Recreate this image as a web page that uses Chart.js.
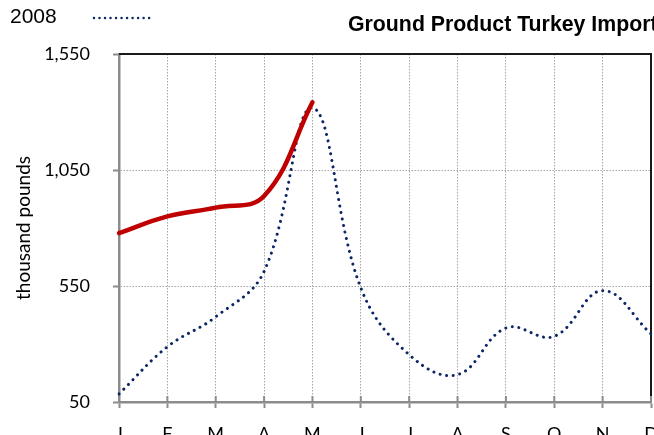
<!DOCTYPE html>
<html>
<head>
<meta charset="utf-8">
<script src="https://cdn.jsdelivr.net/npm/chart.js@4"></script>
<style>
  html, body { margin: 0; padding: 0; background: #fff; }
  #wrap { width: 654px; height: 435px; }
</style>
</head>
<body>
<div id="wrap"><canvas id="myChart" width="654" height="435"></canvas></div>
<script>
const months = ['J', 'F', 'M', 'A', 'M', 'J', 'J', 'A', 'S', 'O', 'N', 'D'];
const imports2008 = [85, 288, 417, 613, 1318, 542, 254, 168, 369, 333, 530, 344];
const imports2009 = [778, 850, 888, 938, 1342];
const yTicks = [50, 550, 1050, 1550];
const chartTitle = 'Ground Product Turkey Imports';
const yTitle = 'thousand pounds';

const navy = '#0b2565';
const red = '#c00000';
const axisGray = '#8c8c8c';
const gridGray = '#a6a6a6';
const tickFont = {family: 'Lato, "Liberation Sans", sans-serif', size: 18};

// top/right frame, inner tick marks, title and the 2008 legend entry
const framePlugin = {
  id: 'frame',
  beforeDatasetsDraw(chart) {
    const {ctx, chartArea: a} = chart;
    const x = chart.scales.x;
    ctx.save();
    ctx.strokeStyle = '#1a1a1a';
    ctx.lineWidth = 2;
    ctx.beginPath();
    ctx.moveTo(a.left, a.top);
    ctx.lineTo(a.right, a.top);
    ctx.lineTo(a.right, a.bottom);
    ctx.stroke();
    // excel style cross ticks: inner half on the x axis
    ctx.strokeStyle = axisGray;
    ctx.lineWidth = 2;
    ctx.beginPath();
    x.ticks.forEach((t, i) => {
      const px = x.getPixelForTick(i);
      ctx.moveTo(px, a.bottom - 6);
      ctx.lineTo(px, a.bottom);
    });
    ctx.stroke();
    ctx.restore();
  },
  afterDraw(chart) {
    const ctx = chart.ctx;
    const ds = chart.data.datasets.find(d => d.label == '2008');
    ctx.save();
    ctx.fillStyle = '#000';
    ctx.textBaseline = 'alphabetic';
    ctx.font = 'bold 21.3px "Liberation Sans", Arial, sans-serif';
    ctx.fillText(chartTitle, 348, 31);
    ctx.font = '21px "Liberation Sans", Arial, sans-serif';
    ctx.fillText(ds.label, 10, 23);
    ctx.strokeStyle = ds.borderColor;
    ctx.lineWidth = 2.5;
    ctx.lineCap = 'round';
    ctx.setLineDash([0.01, 5.5]);
    ctx.beginPath();
    ctx.moveTo(94, 18);
    ctx.lineTo(154, 18);
    ctx.stroke();
    ctx.restore();
  }
};

const ctx = document.getElementById('myChart');
const myChart = new Chart(ctx, {
  type: 'line',
  data: {
    labels: months,
    datasets: [{
      label: '2009',
      data: imports2009,
      borderColor: red,
      borderWidth: 4.5,
      borderCapStyle: 'round',
      tension: 0.4,
      pointRadius: 0,
      fill: false,
      order: 0
    }, {
      label: '2008',
      data: imports2008,
      borderColor: navy,
      borderWidth: 3,
      borderCapStyle: 'round',
      borderDash: [0.01, 6.6],
      tension: 0.4,
      pointRadius: 0,
      fill: false,
      order: 1
    }]
  },
  options: {
    responsive: false,
    animation: false,
    devicePixelRatio: 1,
    layout: {
      padding: {top: 54, right: 3, bottom: 0, left: 0}
    },
    plugins: {
      legend: {display: false},
      tooltip: {enabled: false}
    },
    scales: {
      x: {
        offset: false,
        afterFit(scale) {
          scale.height = 33;
          scale.paddingLeft = 0;
          scale.paddingRight = 0;
        },
        grid: {
          color: gridGray,
          lineWidth: 1,
          tickColor: axisGray,
          tickLength: 6,
          tickWidth: 2
        },
        border: {color: axisGray, width: 2.5, dash: [1.5, 1.5]},
        ticks: {
          font: tickFont,
          color: '#000',
          padding: 15,
          maxRotation: 0,
          autoSkip: false
        }
      },
      y: {
        min: 50,
        max: 1550,
        afterBuildTicks(scale) {
          scale.ticks = yTicks.map(v => ({value: v}));
        },
        afterFit(scale) {
          scale.width = 119;
          scale.paddingTop = 0;
          scale.paddingBottom = 0;
        },
        grid: {
          color: gridGray,
          lineWidth: 1,
          tickColor: axisGray,
          tickLength: 6,
          tickWidth: 2
        },
        border: {color: axisGray, width: 2.5, dash: [1.5, 1.5]},
        ticks: {
          font: tickFont,
          color: '#000',
          padding: 23,
          callback: v => v.toLocaleString('en-US')
        },
        title: {
          display: true,
          text: yTitle,
          color: '#000',
          font: {family: 'Lato, "Liberation Sans", sans-serif', size: 19},
          padding: {top: 12, bottom: 0}
        }
      }
    }
  },
  plugins: [framePlugin]
});
</script>
</body>
</html>
